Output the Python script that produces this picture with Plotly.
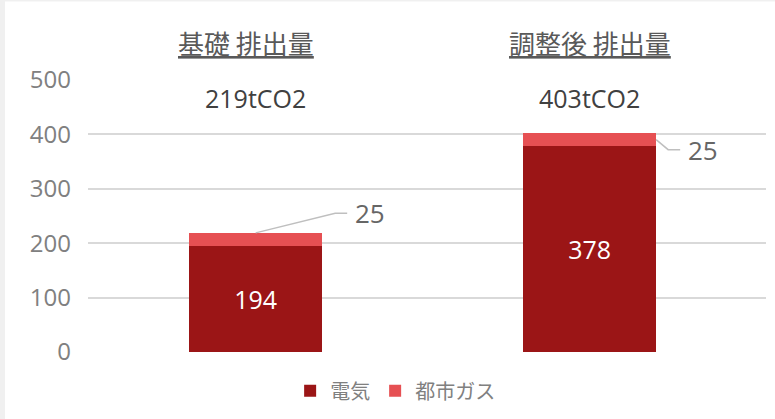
import plotly.graph_objects as go

categories = ["基礎 排出量", "調整後 排出量"]
electricity = [194, 378]
city_gas = [25, 25]
totals_text = ["219tCO2", "403tCO2"]
series_names = ["電気", "都市ガス"]

FONT = "Open Sans, Noto Sans CJK JP"
CJK = "Noto Sans CJK JP"
C_ELEC = "#9B1516"
C_GAS = "#E65053"
GRAY = "#808080"

x_idx = [0, 1]

fig = go.Figure()
fig.add_trace(go.Bar(
    x=x_idx, y=electricity, name=series_names[0], marker=dict(color=C_ELEC, line=dict(width=0)),
    text=[str(v) for v in electricity], textposition="inside", insidetextanchor="middle",
    textfont=dict(color="white", size=25, family=FONT), hoverinfo="skip",
))
fig.add_trace(go.Bar(
    x=x_idx, y=city_gas, name=series_names[1], marker=dict(color=C_GAS, line=dict(width=0)),
    hoverinfo="skip",
))

# white panel (light gray strip at left/top)
fig.add_shape(type="rect", xref="paper", yref="paper",
              x0=(5 - 88) / 678, x1=(800 - 88) / 678, y0=-90 / 274, y1=(354 - 1) / 274,
              fillcolor="white", line=dict(width=0), layer="below")

# headers and totals
header_dx = [-0.028, 0.0]
for i, (cat, tot) in enumerate(zip(categories, totals_text)):
    fig.add_annotation(x=i + header_dx[i], y=(354 - 42) / 274, xref="x", yref="paper",
                       text=f"<u>{cat}</u>", showarrow=False, yanchor="middle",
                       font=dict(size=26, color="#595959", family=CJK))
    fig.add_annotation(x=i, y=(354 - 98) / 274, xref="x", yref="paper", text=tot,
                       showarrow=False, yanchor="middle",
                       font=dict(size=25, color="#404040", family=FONT))

# leader lines and external labels for city gas
bar_half = 0.199
e0, g0 = electricity[0], city_gas[0]
fig.add_shape(type="path", xref="x", yref="y",
              path=f"M 0,{e0 + g0} L 0.238,{e0 + g0 + 36} L 0.274,{e0 + g0 + 36}",
              line=dict(color="#BFBFBF", width=1.5))
fig.add_annotation(x=0.343, y=e0 + g0 + 36, xref="x", yref="y", text=str(g0), showarrow=False,
                   yanchor="middle", font=dict(size=26, color="#666666", family=FONT))
e1, g1 = electricity[1], city_gas[1]
fig.add_shape(type="path", xref="x", yref="y",
              path=f"M {1 + bar_half},{e1 + g1 / 2} L {1 + 0.235},{e1 - 6} L {1 + 0.271},{e1 - 6}",
              line=dict(color="#BFBFBF", width=1.5))
fig.add_annotation(x=1.34, y=e1 - 6, xref="x", yref="y", text=str(g1), showarrow=False,
                   yanchor="middle", font=dict(size=26, color="#666666", family=FONT))

fig.update_layout(
    width=775, height=419,
    barmode="stack", bargap=0.602,
    paper_bgcolor="#F0F0F0", plot_bgcolor="white",
    margin=dict(l=88, r=9, t=80, b=65),
    font=dict(family=FONT, color=GRAY),
    showlegend=True,
    legend=dict(orientation="h", x=0.453, xanchor="center", y=(354 - 393) / 274, yanchor="middle",
                font=dict(size=20, color=GRAY, family=CJK), itemwidth=30,
                bgcolor="rgba(0,0,0,0)", traceorder="normal"),
    xaxis=dict(range=[-0.502, 1.528], showticklabels=False, showgrid=False, zeroline=False,
               showline=False, fixedrange=True),
    yaxis=dict(range=[0, 500], tickvals=[0, 100, 200, 300, 400, 500],
               showgrid=True, gridcolor="#D9D9D9", gridwidth=1.5, zeroline=False,
               showline=False, ticks="", ticklabelstandoff=16, fixedrange=True,
               tickfont=dict(size=24, color=GRAY, family=FONT)),
)

fig.write_html("out.html", config={"displayModeBar": False},
               post_script="document.body.style.margin='0';")
